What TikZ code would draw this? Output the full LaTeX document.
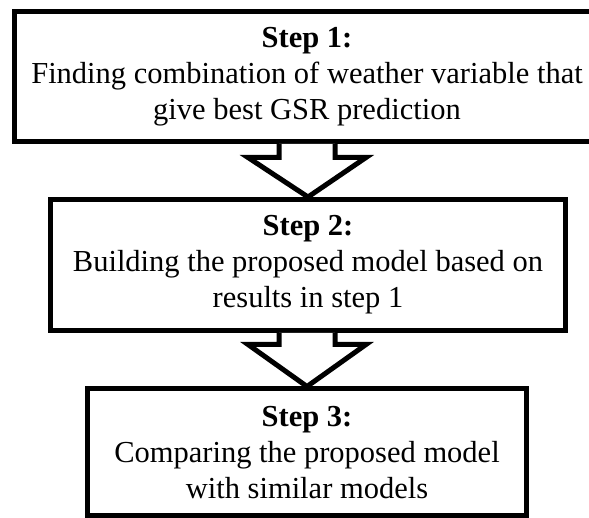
\documentclass[tikz,border=0pt]{standalone}
\usepackage{fontspec}
\setmainfont{Liberation Serif}
\usetikzlibrary{calc,shadows}
\begin{document}
\begin{tikzpicture}[x=1pt,y=1pt]
    \tikzset{stepbox/.style = {shape=rectangle,draw,line width=5pt,fill=white,align=center,inner sep=0pt,
        drop shadow={shadow xshift=1.5pt,shadow yshift=-1.5pt,fill=blue!20,opacity=0.35},
        font=\fontsize{30.5}{36}\selectfont,execute at begin node=\rule{0pt}{28pt}}}
    \tikzset{bigarrow/.style = {draw,line width=5pt,fill=white,line join=miter}}
    \useasboundingbox (0,0) rectangle (589,-518);
    \node[stepbox,minimum width=585pt,minimum height=130pt] (s1) at (307,-76.5) {\textbf{Step 1:}\\Finding combination of weather variable that\\give best GSR prediction};
    \node[stepbox,minimum width=515pt,minimum height=131pt] (s2) at (308,-265) {\textbf{Step 2:}\\Building the proposed model based on\\results in step 1};
    \node[stepbox,minimum width=439pt,minimum height=126.5pt] (s3) at (307,-452.25) {\textbf{Step 3:}\\Comparing the proposed model\\with similar models};
    \draw[bigarrow] ($(s1.south)+(-28,0)$) -- ++(0,-13.5) -- ++(-31,0) -- (s2.north) -- ($(s1.south)+(59,-13.5)$) -- ++(-31,0) -- ++(0,13.5);
    \draw[bigarrow] ($(s2.south)+(-29,0)$) -- ++(0,-11.5) -- ++(-31,0) -- (s3.north) -- ($(s2.south)+(58,-11.5)$) -- ++(-31,0) -- ++(0,11.5);
\end{tikzpicture}
\end{document}
